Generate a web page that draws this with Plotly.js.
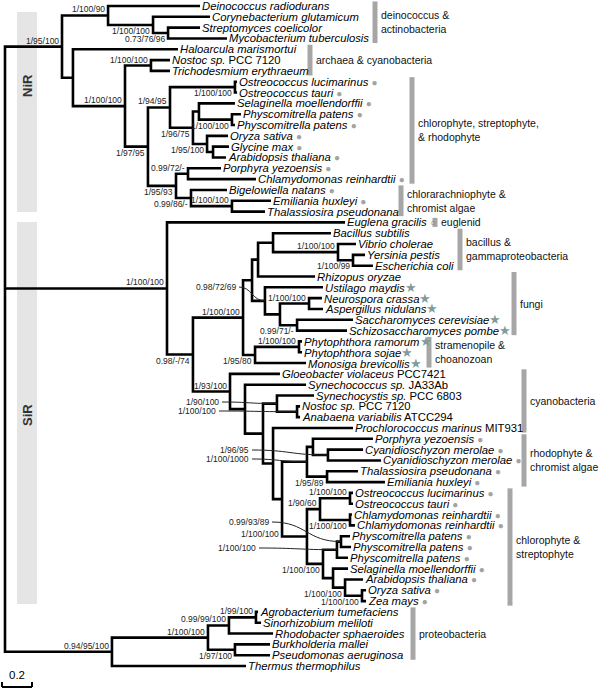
<!DOCTYPE html>
<html><head><meta charset="utf-8">
<script src="https://cdn.plot.ly/plotly-3.0.1.min.js"></script>
<style>body{margin:0;background:#fff}#chart{width:600px;height:690px}</style>
</head><body><div id="chart"></div>
<script>
// ---------------- DATA ----------------
// Leaves, top to bottom (name, tip depth in substitutions/site, marker type)
const leafNames = [
 "<i>Deinococcus radiodurans</i>","<i>Corynebacterium glutamicum</i>","<i>Streptomyces coelicolor</i>","<i>Mycobacterium tuberculosis</i>",
 "<i>Haloarcula marismortui</i>","<i>Nostoc sp.</i> PCC 7120","<i>Trichodesmium erythraeum</i>",
 "<i>Ostreococcus lucimarinus</i>","<i>Ostreococcus tauri</i>","<i>Selaginella moellendorffii</i>","<i>Physcomitrella patens</i>","<i>Physcomitrella patens</i>",
 "<i>Oryza sativa</i>","<i>Glycine max</i>","<i>Arabidopsis thaliana</i>","<i>Porphyra yezoensis</i>","<i>Chlamydomonas reinhardtii</i>",
 "<i>Bigelowiella natans</i>","<i>Emiliania huxleyi</i>","<i>Thalassiosira pseudonana</i>",
 "<i>Euglena gracilis</i>","<i>Bacillus subtilis</i>","<i>Vibrio cholerae</i>","<i>Yersinia pestis</i>","<i>Escherichia coli</i>",
 "<i>Rhizopus oryzae</i>","<i>Ustilago maydis</i>","<i>Neurospora crassa</i>","<i>Aspergillus nidulans</i>","<i>Saccharomyces cerevisiae</i>","<i>Schizosaccharomyces pombe</i>",
 "<i>Phytophthora ramorum</i>","<i>Phytophthora sojae</i>","<i>Monosiga brevicollis</i>",
 "<i>Gloeobacter violaceus</i> PCC7421","<i>Synechococcus sp.</i> JA33Ab","<i>Synechocystis sp.</i> PCC 6803","<i>Nostoc sp.</i> PCC 7120","<i>Anabaena variabilis</i> ATCC294","<i>Prochlorococcus marinus</i> MIT931",
 "<i>Porphyra yezoensis</i>","<i>Cyanidioschyzon merolae</i>","<i>Cyanidioschyzon merolae</i>","<i>Thalassiosira pseudonana</i>","<i>Emiliania huxleyi</i>",
 "<i>Ostreococcus lucimarinus</i>","<i>Ostreococcus tauri</i>","<i>Chlamydomonas reinhardtii</i>","<i>Chlamydomonas reinhardtii</i>",
 "<i>Physcomitrella patens</i>","<i>Physcomitrella patens</i>","<i>Physcomitrella patens</i>","<i>Selaginella moellendorffii</i>",
 "<i>Arabidopsis thaliana</i>","<i>Oryza sativa</i>","<i>Zea mays</i>",
 "<i>Agrobacterium tumefaciens</i>","<i>Sinorhizobium meliloti</i>","<i>Rhodobacter sphaeroides</i>","<i>Burkholderia mallei</i>","<i>Pseudomonas aeruginosa</i>","<i>Thermus thermophilus</i>"
];
const leafDepth = [
 1.300,1.367,1.300,1.480, 1.153,1.100,1.100,
 1.547,1.547,1.533,1.573,1.533, 1.487,1.493,1.473,1.440,1.673, 1.480,1.773,1.733,
 2.267,2.173,2.340,2.400,2.453, 2.067,2.120,2.113,2.120,2.320,2.280, 1.980,1.980,2.007,
 1.833,2.007,2.060,1.967,1.967,2.320,
 2.453,2.387,2.507,2.353,2.533,
 2.320,2.320,2.313,2.333, 2.300,2.307,2.287,2.287, 2.387,2.407,2.407,
 1.687,1.707,1.787,1.767,1.767,1.607
];
// '' none, 'c' filled circle, 'o' open circle, 's' star
const leafMarker = [
 '','','','', '','','',
 'c','c','c','c','c', 'c','c','c','c','c', 'c','c','',
 'o','','','','', '','s','s','s','s','s', 's','s','s',
 '','','','','','',
 'c','c','c','c','c',
 'c','c','c','c', 'c','c','c','c', 'c','c','c',
 '','','','','',''
];
// Internal nodes: id, depth, children (leaf indices or node ids), support value
const nodeIds = ['R','A','B','C','D','E','F','G','H','I','J','K','Q','U','T','V','LL','M','N','O',
 'S','W','X','Z','BD','BA','BB','BC','BE','BH','BF','BG','AA','AB',
 'Y','CA','CD','CC','CB','CE','CF','RC','RP','CY','TE','GB','GA','OS','CH','SP','PH','P2','VN','AN','OZ',
 'P','PR','AR','AS','BP'];
const nodeDepth = [0,0.380,0.687,0.987,1.087,0.453,0.800,0.973,0.953,1.100,1.533,1.253,1.293,1.513,1.347,1.387,1.140,1.220,1.240,1.513,
 1.080,1.253,1.587,1.647,1.687,1.787,2.220,2.320,1.733,1.833,2.027,1.947,1.667,1.960,
 1.500,1.600,1.720,1.813,1.947,1.787,1.847,2.013,2.053,2.153,2.147,2.013,2.100,2.300,2.300,2.120,2.213,2.240,2.187,2.267,2.380,
 0.713,1.353,1.493,1.673,1.533];
const nodeChildren = ['A S P','B E','0 C','1 D','2 3','4 F','G H','5 6','I LL','J K','7 8','Q T','9 U','10 11','12 V','13 14','M N','15 16','17 O','18 19',
 '20 W','X Y','Z AA','BD BE','BA 25','21 BB','22 BC','23 24','26 BH','BF BG','27 28','29 30','AB 33','31 32',
 '34 CA','35 CD','CC CE','36 CB','37 38','39 CF','RC GB','RP TE','40 CY','41 42','43 44','GA SP','OS CH','45 46','47 48','PH VN','P2 51','49 50','52 AN','53 OZ','54 55',
 'PR 61','AR BP','AS 58','56 57','59 60'];
const nodeSupport = ['','1/95/100','1/100/90','1/100/100','0.73/76/96','','1/100/100','1/100/100','1/97/95','1/94/95','1/100/100','1/96/75','','1/100/100','1/95/100','','1/95/93','0.99/72/-','0.99/86/-','1/100/100',
 '1/100/100','0.98/-/74','1/100/100','','','','1/100/100','1/100/99','0.98/72/69','','1/100/100','0.99/71/-','1/95/80','1/100/100',
 '1/93/100','','','1/90/100','1/100/100','','','1/100/1000','','1/96/95','1/95/89','1/100/100','1/90/60','1/100/100','1/100/100','1/100/100','1/100/100','0.99/93/89','','1/100/100','1/100/100',
 '0.94/95/100','1/100/100','0.99/99/100','1/99/100','1/97/100'];
// Clade brackets
const groupNames = ['deinococcus &amp;<br>actinobacteria','archaea &amp; cyanobacteria','chlorophyte, streptophyte,<br>&amp; rhodophyte','chlorarachniophyte &amp;<br>chromist algae','euglenid','bacillus &amp;<br>gammaproteobacteria','fungi','stramenopile &amp;<br>choanozoan','cyanobacteria','rhodophyte &amp;<br>chromist algae','chlorophyte &amp;<br>streptophyte','proteobacteria'];
const groupFirst = [0,4,7,17,20,21,25,31,34,40,45,56];
const groupLast  = [3,6,16,19,20,24,30,33,39,44,55,60];
const enzymeNames = ['NiR','SiR'];
const scaleValue = 0.2;

// ---------------- LAYOUT CONSTANTS ----------------
const PXU = 150, ROOTPX = 5, ROWPX = 10.82, TOPPX = 6;
const xOf = px => (px - ROOTPX) / PXU;
const yOf = py => (py - TOPPX) / ROWPX;
const above = ['A','B','F','G','I','M','O','S','X','BB','BF','AB','Y','GA','OS','P','PR','AR','AS'];
const freeLabels = {BE:[237,287,1],CC:[220,402,1],CB:[217,411,1],CY:[250,450,1],RC:[250,459,1],P2:[270,522,1],PH:[257,548,1],GB:[280,534,0]};
const groupBarPx = [375,310,412,401,435,460,514,429,524,524,510,413];
const enzymeBoxPx = [[12,212],[222,604]];
const enzymeTextPx = [86,415];

// ---------------- BUILD ----------------
const nodes = {};
nodeIds.forEach((id,k)=>{nodes[id]={d:nodeDepth[k],kids:nodeChildren[k].split(' '),sup:nodeSupport[k]};});
function pos(ref){
  if(/^\d+$/.test(ref)){const i=+ref;return {d:leafDepth[i],y:i};}
  const n=nodes[ref];
  if(n.y===undefined){const ks=n.kids.map(pos);n.y=(ks[0].y+ks[ks.length-1].y)/2;n.kp=ks;}
  return {d:n.d,y:n.y};
}
pos('R');
const lx=[],ly=[];
nodeIds.forEach(id=>{
  const n=nodes[id],k=n.kp,f=k[0],l=k[k.length-1];
  lx.push(f.d,n.d,n.d,l.d,null); ly.push(f.y,f.y,l.y,l.y,null);
  for(let i=1;i<k.length-1;i++){lx.push(n.d,k[i].d,null);ly.push(k[i].y,k[i].y,null);}
});
const FONT='Liberation Sans, Arial, sans-serif';
const annotations=[], shapes=[];
const mk={c:' <span style="color:#a3a3a3;font-size:10px">●</span>',o:' <span style="color:#8a8a8a;font-size:10px">○</span>',s:'<span style="color:#7f9b9b;font-size:13px">★</span>'};
leafNames.forEach((nm,i)=>{
  annotations.push({x:leafDepth[i],y:i,text:nm+(leafMarker[i]?mk[leafMarker[i]]:''),showarrow:false,xanchor:'left',yanchor:'middle',xshift:1,borderpad:0,font:{family:FONT,size:11.3,color:'#000'}});
});
nodeIds.forEach(id=>{
  const n=nodes[id]; if(!n.sup) return;
  const fnt={family:FONT,size:8.5,color:'#222'};
  if(freeLabels[id]){
    const [rx,cy,lead]=freeLabels[id];
    annotations.push({x:xOf(rx),y:yOf(cy),text:n.sup,showarrow:false,xanchor:'right',yanchor:'middle',borderpad:0,font:fnt});
    if(lead){
      const x0=xOf(rx+2),y0=yOf(cy),x1=n.d,y1=n.y,xm=(x0+x1)/2;
      shapes.push({type:'path',xref:'x',yref:'y',path:`M ${x0},${y0} C ${xm},${y0} ${xm},${y1} ${x1},${y1}`,line:{color:'#222',width:1}});
    }
  } else {
    const up=above.includes(id);
    annotations.push({x:n.d,y:n.y,text:n.sup,showarrow:false,xanchor:'right',yanchor:up?'bottom':'top',xshift:-2,borderpad:0,font:fnt});
  }
});
groupNames.forEach((g,k)=>{
  const y0=groupFirst[k]-0.42,y1=groupLast[k]+0.42;
  shapes.push({type:'line',xref:'x',yref:'y',x0:xOf(groupBarPx[k]),x1:xOf(groupBarPx[k]),y0:y0,y1:y1,line:{color:'#a6a6a6',width:5}});
  annotations.push({x:xOf(groupBarPx[k]+5),y:(y0+y1)/2,text:g,showarrow:false,xanchor:'left',yanchor:'middle',align:'left',borderpad:0,font:{family:FONT,size:10.5,color:'#111'}});
});
enzymeNames.forEach((e,k)=>{
  shapes.push({type:'rect',xref:'x',yref:'y',layer:'below',x0:xOf(17),x1:xOf(37),y0:yOf(enzymeBoxPx[k][0]),y1:yOf(enzymeBoxPx[k][1]),fillcolor:'#e5e5e5',line:{width:0}});
  annotations.push({x:xOf(27),y:yOf(enzymeTextPx[k]),text:'<b>'+e+'</b>',textangle:-90,showarrow:false,xanchor:'center',yanchor:'middle',font:{family:FONT,size:13,color:'#333'}});
});
// scale bar
const sbx0=xOf(2), sby=yOf(687);
shapes.push({type:'line',xref:'x',yref:'y',x0:sbx0,x1:sbx0+scaleValue,y0:sby,y1:sby,line:{color:'#000',width:2}});
shapes.push({type:'line',xref:'x',yref:'y',x0:sbx0,x1:sbx0,y0:sby,y1:yOf(682),line:{color:'#000',width:2}});
shapes.push({type:'line',xref:'x',yref:'y',x0:sbx0+scaleValue,x1:sbx0+scaleValue,y0:sby,y1:yOf(682),line:{color:'#000',width:2}});
annotations.push({x:sbx0+scaleValue/2,y:yOf(682),text:String(scaleValue),showarrow:false,xanchor:'center',yanchor:'bottom',borderpad:0,font:{family:FONT,size:11.5,color:'#000'}});

const trace={x:lx,y:ly,mode:'lines',type:'scatter',line:{color:'#000',width:2.6},hoverinfo:'skip',connectgaps:false};
const layout={width:600,height:690,margin:{l:0,r:0,t:0,b:0},paper_bgcolor:'#fff',plot_bgcolor:'#fff',showlegend:false,
  xaxis:{range:[xOf(0),xOf(600)],visible:false,fixedrange:true},
  yaxis:{range:[yOf(690),yOf(0)],visible:false,fixedrange:true},
  annotations:annotations,shapes:shapes};
Plotly.newPlot('chart',[trace],layout,{staticPlot:true,displayModeBar:false});
</script></body></html>
